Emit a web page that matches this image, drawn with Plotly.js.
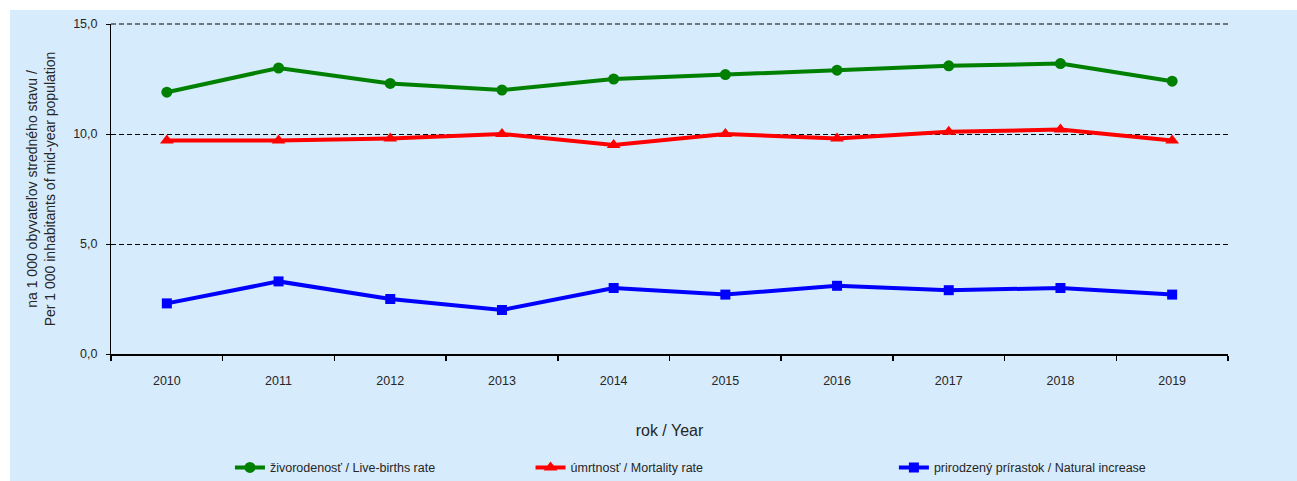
<!DOCTYPE html>
<html>
<head>
<meta charset="utf-8">
<script src="https://cdn.plot.ly/plotly-3.0.1.min.js"></script>
<style>
  html, body { margin: 0; padding: 0; background: #ffffff; }
  #chart { position: absolute; left: 10px; top: 10px; width: 1287px; height: 471px; }
</style>
</head>
<body>
<div id="chart"></div>
<script>
const years = ['2010','2011','2012','2013','2014','2015','2016','2017','2018','2019'];
const liveBirths = [11.9, 13.0, 12.3, 12.0, 12.5, 12.7, 12.9, 13.1, 13.2, 12.4];
const mortality = [9.7, 9.7, 9.8, 10.0, 9.5, 10.0, 9.8, 10.1, 10.2, 9.7];
const naturalIncrease = [2.3, 3.3, 2.5, 2.0, 3.0, 2.7, 3.1, 2.9, 3.0, 2.7];
const yTicks = [0, 5, 10, 15];
const yTickLabels = ['0,0', '5,0', '10,0', '15,0'];
const seriesNames = ['živorodenosť / Live-births rate', 'úmrtnosť / Mortality rate', 'prirodzený prírastok / Natural increase'];

const font = 'Liberation Sans, Arial, sans-serif';
const textColor = '#262626';

const traces = [
  { x: years, y: liveBirths, name: seriesNames[0], type: 'scatter', mode: 'lines+markers',
    line: { color: '#008000', width: 4 }, marker: { symbol: 'circle', size: 11, color: '#008000' }, legend: 'legend' },
  { x: years, y: mortality, name: seriesNames[1], type: 'scatter', mode: 'lines+markers',
    line: { color: '#ff0000', width: 4 }, marker: { symbol: 'triangle-up', size: 12, color: '#ff0000' }, legend: 'legend2' },
  { x: years, y: naturalIncrease, name: seriesNames[2], type: 'scatter', mode: 'lines+markers',
    line: { color: '#0000ff', width: 4 }, marker: { symbol: 'square', size: 10, color: '#0000ff' }, legend: 'legend3' }
];

const legendBase = { orientation: 'h', yanchor: 'middle', y: -0.345, xanchor: 'left', bgcolor: 'rgba(0,0,0,0)',
  font: { family: font, size: 12.5, color: textColor } };

const layout = {
  width: 1287, height: 471,
  paper_bgcolor: '#d6ebfb', plot_bgcolor: '#d6ebfb',
  margin: { l: 101, r: 69, t: 14, b: 127, autoexpand: false },
  showlegend: true,
  legend: Object.assign({}, legendBase, { x: 0.1065 }),
  legend2: Object.assign({}, legendBase, { x: 0.3756 }),
  legend3: Object.assign({}, legendBase, { x: 0.7009 }),
  shapes: [
    { type: 'line', xref: 'paper', yref: 'paper', x0: 0, x1: 1, y0: 1, y1: 1,
      line: { color: '#000', width: 1, dash: '5px,3px' }, layer: 'below' }
  ],
  xaxis: {
    type: 'category', range: [-0.5, 9.5], tickson: 'boundaries',
    showline: true, linecolor: '#000', linewidth: 2,
    ticks: 'outside', ticklen: 5, tickwidth: 1.5, tickcolor: '#000',
    showgrid: false, zeroline: false, automargin: false,
    ticklabelstandoff: 14,
    tickfont: { family: font, size: 12.5, color: textColor },
    title: { text: 'rok / Year', font: { family: font, size: 16, color: textColor }, standoff: 38 },
    fixedrange: true
  },
  yaxis: {
    range: [0, 15], tickvals: yTicks, ticktext: yTickLabels,
    showline: true, linecolor: '#000', linewidth: 1,
    ticks: 'outside', ticklen: 4, tickwidth: 1, tickcolor: '#000',
    showgrid: true, gridcolor: '#000', gridwidth: 1, griddash: '5px,3px',
    zeroline: false, automargin: false,
    ticklabelstandoff: 6,
    tickfont: { family: font, size: 12.5, color: textColor },
    title: { text: 'na 1 000 obyvateľov stredného stavu /<br>Per 1 000 inhabitants of mid-year population',
      font: { family: font, size: 14, color: textColor }, standoff: 14 },
    fixedrange: true
  }
};

Plotly.newPlot('chart', traces, layout, { displayModeBar: false, staticPlot: true });
</script>
</body>
</html>
